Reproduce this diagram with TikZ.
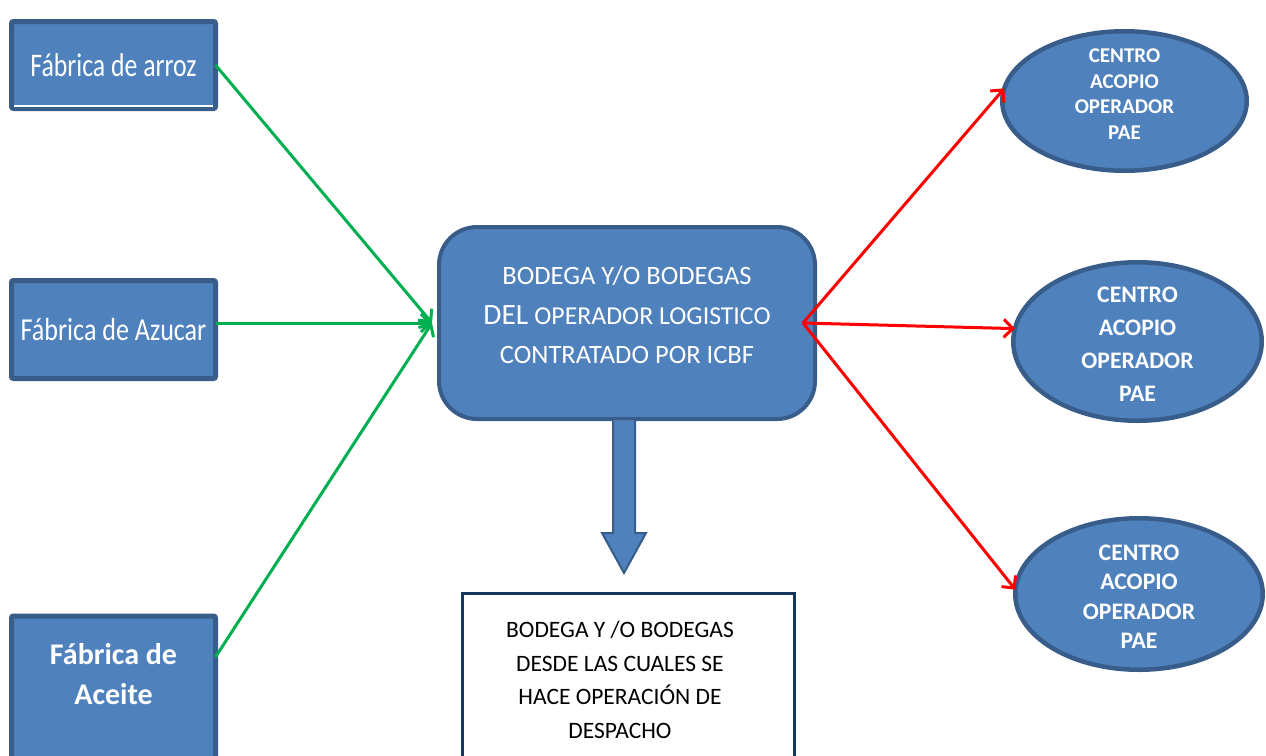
\documentclass[tikz,border=0pt]{standalone}
\usepackage{fontspec}
\setmainfont{Carlito}
\newfontfamily\narrowfontA[FakeStretch=0.78]{Carlito}
\newfontfamily\narrowfontB[FakeStretch=0.815]{Carlito}
\usetikzlibrary{shapes.geometric,arrows.meta,calc}
\definecolor{boxfill}{HTML}{4F81BD}
\definecolor{boxline}{HTML}{385D8A}
\definecolor{navy}{HTML}{17365D}
\definecolor{arrgreen}{HTML}{00B050}
\definecolor{arrred}{HTML}{FF0000}
\tikzset{
  srcbox/.style={draw=boxline, fill=boxfill, line width=5pt, rounded corners=2pt,
    minimum width=204pt, inner sep=0pt, outer sep=0pt, text=white},
  hubbox/.style={draw=boxline, fill=boxfill, line width=4pt, rounded corners=38pt,
    minimum width=376pt, minimum height=192pt, inner sep=0pt, outer sep=0pt},
  destbox/.style={draw=navy, fill=white, line width=3pt, minimum width=332pt,
    minimum height=186.5pt, inner sep=0pt, outer sep=0pt},
  centre/.style={ellipse, draw=boxline, fill=boxfill, line width=4.5pt,
    inner sep=0pt, outer sep=0pt},
  lbl/.style={align=center, inner sep=0pt, outer sep=0pt},
  garrow/.style={draw=arrgreen, line width=3pt, -{Straight Barb[length=9pt,width=18pt]}},
  rarrow/.style={draw=arrred, line width=3pt, -{Straight Barb[length=9pt,width=18pt]}},
  blockarrow/.style={draw=boxline, fill=boxfill, line width=2pt, line join=miter},
}
\begin{document}
\begin{tikzpicture}[x=1pt,y=-1pt]
\useasboundingbox (0,0) rectangle (1266,755);
\clip (0,0) rectangle (1266,755);

% source boxes
\node[srcbox, minimum height=87pt, font=\narrowfontA\fontsize{33}{38}\selectfont] (b1) at (113.5,65) {Fábrica de arroz};
\draw[white, line width=1.2pt] (14,106) -- (213,106);
\node[srcbox, minimum height=98pt, font=\narrowfontB\fontsize{32}{38}\selectfont] (b2) at (113.5,329.5) {Fábrica de Azucar};
\node[srcbox, minimum height=184pt] (b3) at (113.5,708) {};
\node[lbl, text=white, font=\bfseries\fontsize{30}{40}\selectfont] (b3t) at (113.5,674) {Fábrica de\\Aceite};

% hub
\node[hubbox] (c) at (627,323) {};
\node[lbl, text=white, font=\fontsize{26.5}{39.5}\selectfont] (ct) at (627,315)
  {BODEGA Y/O BODEGAS\\{\fontsize{29.5}{39.5}\selectfont DEL} {\fontsize{25.8}{39.5}\selectfont OPERADOR LOGISTICO}\\CONTRATADO POR ICBF};

% dispatch box
\node[destbox] (d) at (628.5,686.75) {};
\node[lbl, text=black, font=\fontsize{23.5}{33.5}\selectfont] (dt) at (620,680)
  {BODEGA Y /O BODEGAS\\DESDE LAS CUALES SE\\HACE OPERACIÓN DE\\DESPACHO};

% block arrow
\draw[blockarrow, shift={(c.south)}]
  (-14,0) -- (-14,114) -- (-25,114) -- (-3,154) -- (19,114) -- (8,114) -- (8,0) -- cycle;

% centres
\node[centre, minimum width=244.5pt, minimum height=139.5pt] (e1) at (1124.5,101) {};
\node[lbl, text=white, font=\bfseries\fontsize{21}{25.7}\selectfont] (e1t) at ($(e1)+(0,-7)$)
  {CENTRO\\ACOPIO\\OPERADOR\\PAE};
\node[centre, minimum width=248.5pt, minimum height=158.5pt] (e2) at (1137.5,341.5) {};
\node[lbl, text=white, font=\bfseries\fontsize{23.7}{33.3}\selectfont] (e2t) at ($(e2)+(0,2.7)$)
  {CENTRO\\ACOPIO\\OPERADOR\\PAE};
\node[centre, minimum width=247.5pt, minimum height=151.5pt] (e3) at (1139,594) {};
\node[lbl, text=white, font=\bfseries\fontsize{23.7}{29.4}\selectfont] (e3t) at ($(e3)+(0,2.7)$)
  {CENTRO\\ACOPIO\\OPERADOR\\PAE};

% connectors
\coordinate (gt) at ([xshift=-7pt]c.west);
\coordinate (ro) at ([xshift=-12pt]c.east);
\draw[garrow] (b1.east) -- (gt);
\draw[garrow] (b2.east |- gt) -- (gt);
\draw[garrow] ([yshift=51pt]b3.east) -- (gt);
\draw[rarrow] (ro) -- (e1.174);
\draw[rarrow] (ro) -- (e2.174);
\draw[rarrow] (ro) -- (e3.178);
\end{tikzpicture}
\end{document}
